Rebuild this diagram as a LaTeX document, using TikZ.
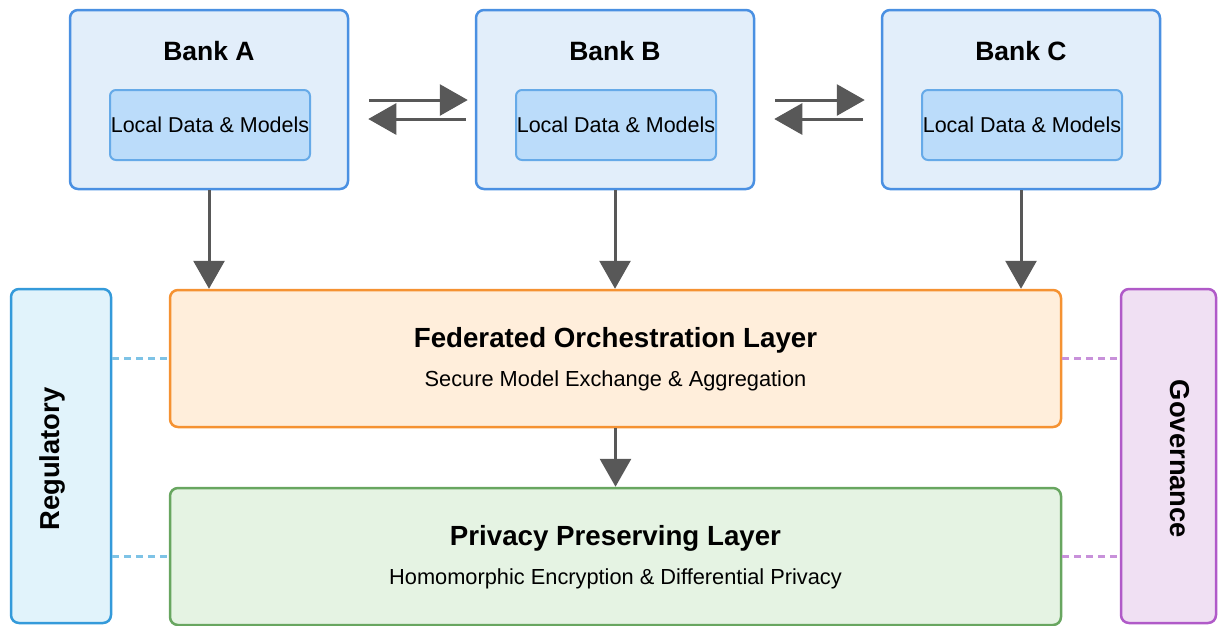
\documentclass[tikz,border=0pt]{standalone}
\usepackage{fontspec}
\setmainfont{Liberation Sans}
\usetikzlibrary{arrows.meta}
\definecolor{bankborder}{RGB}{74,144,226}
\definecolor{bankfill}{RGB}{226,238,250}
\definecolor{datafill}{RGB}{187,220,250}
\definecolor{databorder}{RGB}{102,170,232}
\definecolor{arrowgray}{RGB}{88,88,88}
\definecolor{orchborder}{RGB}{245,146,50}
\definecolor{orchfill}{RGB}{255,238,219}
\definecolor{privborder}{RGB}{104,166,96}
\definecolor{privfill}{RGB}{229,243,227}
\definecolor{regborder}{RGB}{52,154,218}
\definecolor{regfill}{RGB}{225,243,251}
\definecolor{regdash}{RGB}{126,195,230}
\definecolor{govborder}{RGB}{176,90,200}
\definecolor{govfill}{RGB}{240,224,243}
\definecolor{govdash}{RGB}{200,145,218}
\begin{document}
\begin{tikzpicture}[x=1pt,y=-1pt,
  bankbox/.style={draw=bankborder, fill=bankfill, line width=2.5pt, rounded corners=8pt, minimum width=278pt, minimum height=179pt, inner sep=0pt},
  databox/.style={draw=databorder, fill=datafill, line width=2pt, rounded corners=6pt, minimum width=200pt, minimum height=70pt, inner sep=0pt, font=\fontsize{21.5}{25}\selectfont},
  banktitle/.style={font=\fontsize{26.5}{31}\selectfont\bfseries, inner sep=0pt},
  layerbox/.style={line width=2.5pt, rounded corners=8pt, minimum width=891pt, minimum height=137pt, inner sep=0pt},
  layertitle/.style={font=\fontsize{27.7}{32}\selectfont\bfseries, inner sep=0pt},
  layersub/.style={font=\fontsize{21.8}{25}\selectfont, inner sep=0pt},
  sidebox/.style={line width=2.5pt, rounded corners=8pt, minimum width=100pt, minimum height=334pt, inner sep=0pt},
  sidetitle/.style={font=\fontsize{27.4}{32}\selectfont\bfseries, inner sep=0pt},
  flow/.style={draw=arrowgray, line width=3pt, -{Triangle[length=28pt,width=31pt]}},
  link/.style={line width=3.5pt, dash pattern=on 7pt off 5pt}
]
\useasboundingbox (0,0) rectangle (1218,625);

% banks
\foreach \n/\x/\l in {A/209/A, B/615/B, C/1021/C} {
  \node[bankbox] (bank\n) at (\x,99.5) {};
  \node[banktitle] (title\n) at (\x,51) {Bank \l};
  \node[databox] (data\n) at (\x+1,125) {Local Data \& Models};
}

% layers
\node[layerbox, draw=orchborder, fill=orchfill] (orch) at (615.5,358.5) {};
\node[layertitle] (orchT) at (615.5,340) {Federated Orchestration Layer};
\node[layersub] (orchS) at (615.5,381) {Secure Model Exchange \& Aggregation};

\node[layerbox, draw=privborder, fill=privfill] (priv) at (615.5,556.5) {};
\node[layertitle] (privT) at (615.5,538) {Privacy Preserving Layer};
\node[layersub] (privS) at (615.5,579) {Homomorphic Encryption \& Differential Privacy};

% side boxes
\node[sidebox, draw=regborder, fill=regfill] (reg) at (61,456) {};
\node[sidetitle, rotate=90] (regT) at (52,459) {Regulatory};
\node[sidebox, draw=govborder, fill=govfill, minimum width=95pt] (gov) at (1168.5,456) {};
\node[sidetitle, rotate=-90] (govT) at (1180,459) {Governance};

% peer exchange arrows
\coordinate (ab1) at ([xshift=20pt,yshift=-0.5pt]bankA.east);
\coordinate (ab2) at ([xshift=-7pt,yshift=-0.5pt]bankB.west);
\coordinate (ba1) at ([xshift=-9pt,yshift=-19.5pt]bankB.west);
\coordinate (ba2) at ([xshift=19pt,yshift=-19.5pt]bankA.east);
\draw[flow] (ab1) -- (ab2);
\draw[flow] (ba1) -- (ba2);
\coordinate (bc1) at ([xshift=20pt,yshift=-0.5pt]bankB.east);
\coordinate (bc2) at ([xshift=-16pt,yshift=-0.5pt]bankC.west);
\coordinate (cb1) at ([xshift=-18pt,yshift=-19.5pt]bankC.west);
\coordinate (cb2) at ([xshift=19pt,yshift=-19.5pt]bankB.east);
\draw[flow] (bc1) -- (bc2);
\draw[flow] (cb1) -- (cb2);

% down arrows
\draw[flow] (bankA.south) -- (bankA.south |- orch.north);
\draw[flow] (bankB.south) -- (bankB.south |- orch.north);
\draw[flow] (bankC.south) -- (bankC.south |- orch.north);
\draw[flow] (orch.south) -- (priv.north);

% dotted links
\draw[link, draw=regdash] (reg.east |- orch.west) -- (orch.west);
\draw[link, draw=regdash] (reg.east |- priv.west) -- (priv.west);
\draw[link, draw=govdash] (orch.east) -- (orch.east -| gov.west);
\draw[link, draw=govdash] (priv.east) -- (priv.east -| gov.west);
\end{tikzpicture}
\end{document}
